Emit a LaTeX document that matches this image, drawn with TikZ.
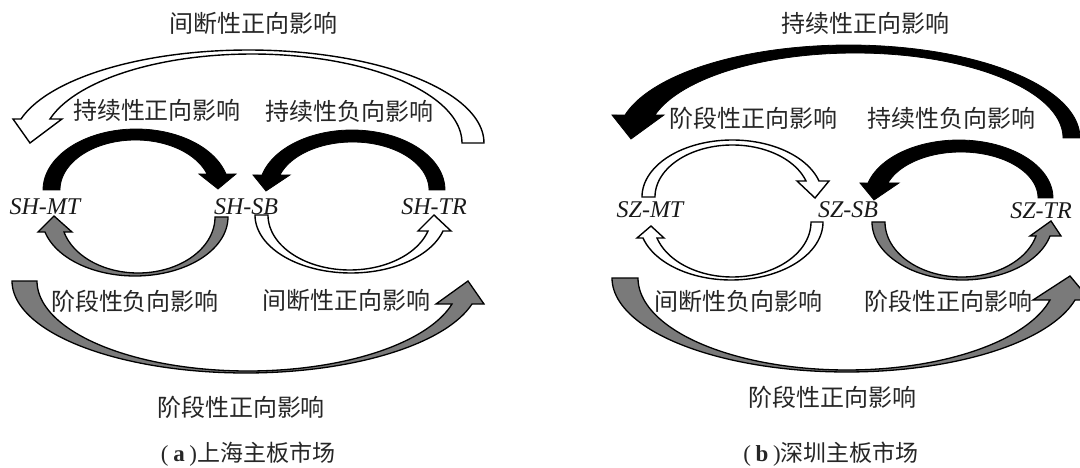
\documentclass[tikz,border=0pt]{standalone}
\usepackage{fontspec}
\setmainfont{Liberation Serif}
\newfontfamily\cjk{Noto Sans CJK SC}
\usetikzlibrary{calc}

% Keys of a curved block arrow: the band lies between two half-ellipses
% that start on the tail line y=cy and end on the head base line y=yb.
\pgfkeys{/band/.cd,
  cy/.store in=\bCY, yb/.store in=\bYB, start/.store in=\bST,
  outer/.code args={#1/#2/#3}{\def\bOXT{#1}\def\bOYE{#2}\def\bOXH{#3}},
  inner/.code args={#1/#2/#3}{\def\bIXT{#1}\def\bIYE{#2}\def\bIXH{#3}},
  barbs/.code args={#1/#2}{\def\bBO{#1}\def\bBI{#2}},
  tip/.code args={#1/#2}{\def\bTX{#1}\def\bTY{#2}}}

% one edge: tail x, extreme y, head-base x -> centre, radii, end angle
\newcommand\bandedge[3]{%
  \pgfmathsetmacro\eRY{abs(#2-\bCY)}%
  \pgfmathsetmacro\eTop{(#2<\bCY)}%
  \pgfmathsetmacro\eS{(\bYB-\bCY)/\eRY}%
  \pgfmathsetmacro\eTE{ifthenelse(\bST==180, asin(\eS)+360*\eTop, 180-asin(\eS))}%
  \pgfmathsetmacro\eRX{(#3-#1)/(cos(\eTE)-cos(\bST))}%
  \pgfmathsetmacro\eCX{#1-\eRX*cos(\bST)}}

\newcommand\bandarrow[2]{%
  \pgfkeys{/band/.cd,#2}%
  \bandedge{\bOXT}{\bOYE}{\bOXH}%
  \let\oCX\eCX \let\oRX\eRX \let\oRY\eRY \let\oTE\eTE
  \bandedge{\bIXT}{\bIYE}{\bIXH}%
  \let\iCX\eCX \let\iRX\eRX \let\iRY\eRY \let\iTE\eTE
  \path[#1]
    plot[domain=\bST:\oTE, samples=90, variable=\t]
      ({\oCX+\oRX*cos(\t)},{\bCY+\oRY*sin(\t)})
    -- (\bBO,\bYB) -- (\bTX,\bTY) -- (\bBI,\bYB)
    -- plot[domain=\iTE:\bST, samples=90, variable=\t]
      ({\iCX+\iRX*cos(\t)},{\bCY+\iRY*sin(\t)})
    -- cycle;}

\tikzset{
  solidarrow/.style={fill=black, draw=black, line width=0.8pt, line join=miter},
  hollowarrow/.style={fill=white, draw=black, line width=1.4pt, line join=miter},
  greyarrow/.style={fill=black!52, draw=black, line width=1.3pt, line join=miter},
  lbl/.style={font=\cjk\fontsize{24}{28}\selectfont, text=black!85, inner sep=0pt},
  var/.style={font=\itshape\fontsize{24}{28}\selectfont, text=black!90, inner sep=0pt},
  captext/.style={font=\fontsize{23}{26}\selectfont, text=black!85, inner sep=0pt}
}

\begin{document}
\begin{tikzpicture}[x=1pt, y=-1pt]
\fill[white] (0,0) rectangle (1080,468);
\useasboundingbox (0,0) rectangle (1080,468);

% ---------------- (a) Shanghai main board ----------------
\node[var] (shmt) at (45,207) {SH-MT};
\node[var] (shsb) at (246,207) {SH-SB};
\node[var] (shtr) at (434,207) {SH-TR};

% SH-TR -> SH-MT, long arc over the top
\bandarrow{hollowarrow}{cy=143, yb=119, start=360,
  outer=484/50/21, inner=462/54/50, barbs=13/62, tip=30/143}
% SH-MT -> SH-SB
\bandarrow{solidarrow}{cy=190, yb=174, start=180,
  outer=43/129/226, inner=60/140/207, barbs=236/199, tip=218/189}
% SH-TR -> SH-SB
\bandarrow{solidarrow}{cy=190, yb=175, start=360,
  outer=445/130/262, inner=429/142/280, barbs=253/290, tip=266/191}
% SH-SB -> SH-MT, below
\bandarrow{greyarrow}{cy=217, yb=232, start=0,
  outer=228/276/45, inner=215/273/64, barbs=38/72, tip=54/216}
% SH-SB -> SH-TR, below
\bandarrow{hollowarrow}{cy=215, yb=231, start=180,
  outer=255/273/443, inner=268/270/428, barbs=451/418, tip=434/215}
% SH-MT -> SH-TR, long arc underneath
\bandarrow{greyarrow}{cy=281, yb=304, start=180,
  outer=12/373/472, inner=37/371/452, barbs=484/436, tip=468/281}

\node[lbl] (a1) at (253,23)  {间断性正向影响};
\node[lbl] (a2) at (157,110) {持续性正向影响};
\node[lbl] (a3) at (349,111) {持续性负向影响};
\node[lbl] (a4) at (135,301) {阶段性负向影响};
\node[lbl] (a5) at (346,300) {间断性正向影响};
\node[lbl] (a6) at (241,407) {阶段性正向影响};
\node[captext] (capa) at (248,454)
  {(\hspace{0.2em}\textbf{a}\hspace{0.2em}){\cjk 上海主板市场}};

% ---------------- (b) Shenzhen main board ----------------
\node[var] (szmt) at (650,210) {SZ-MT};
\node[var] (szsb) at (848,210) {SZ-SB};
\node[var] (sztr) at (1041,211) {SZ-TR};

% SZ-TR -> SZ-MT, long arc over the top
\bandarrow{solidarrow}{cy=138, yb=115, start=360,
  outer=1080/45/625, inner=1063/53/655, barbs=612/664, tip=631/139}
% SZ-MT -> SZ-SB
\bandarrow{hollowarrow}{cy=197, yb=181, start=180,
  outer=642/140/819, inner=655/145/806, barbs=829/797, tip=815/198}
% SZ-TR -> SZ-SB
\bandarrow{solidarrow}{cy=198, yb=183, start=360,
  outer=1053/140/868, inner=1038/152/888, barbs=860/899, tip=874/200}
% SZ-SB -> SZ-MT, below
\bandarrow{hollowarrow}{cy=222, yb=238, start=0,
  outer=823/280/643, inner=811/277/657, barbs=637/664, tip=651/226}
% SZ-SB -> SZ-TR, below
\bandarrow{greyarrow}{cy=222, yb=236, start=180,
  outer=872/280/1050, inner=885/277/1036, barbs=1061/1030, tip=1051/221}
% SZ-MT -> SZ-TR, long arc underneath
\bandarrow{greyarrow}{cy=278, yb=300, start=180,
  outer=612/372/1075, inner=638/370/1050, barbs=1090/1033, tip=1070/276}

\node[lbl] (b1) at (865,23)  {持续性正向影响};
\node[lbl] (b2) at (753,118) {阶段性正向影响};
\node[lbl] (b3) at (951,118) {持续性负向影响};
\node[lbl] (b4) at (738,301) {间断性负向影响};
\node[lbl] (b5) at (948,301) {阶段性正向影响};
\node[lbl] (b6) at (832,397) {阶段性正向影响};
\node[captext] (capb) at (831,454)
  {(\hspace{0.2em}\textbf{b}\hspace{0.2em}){\cjk 深圳主板市场}};
\end{tikzpicture}
\end{document}
